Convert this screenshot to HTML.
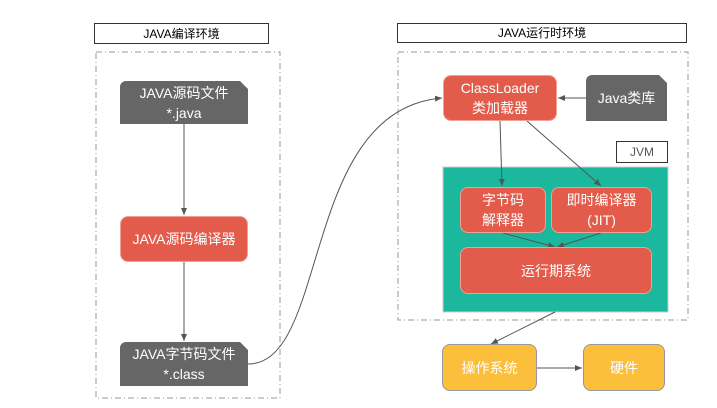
<!DOCTYPE html>
<html><head><meta charset="utf-8"><style>
body{margin:0;width:717px;height:408px;background:#fff;font-family:"Liberation Sans","Noto Sans CJK SC",sans-serif;position:relative;overflow:hidden}
.a{position:absolute;box-sizing:border-box;display:flex;align-items:center;justify-content:center;text-align:center;color:#fff;font-size:14px;line-height:20px}
.g{background:#666;clip-path:polygon(0 0,calc(100% - 8px) 0,100% 8px,100% 100%,0 100%);border-radius:6px 0 0 0}
.r{background:#e35b4b;border-radius:8px;border:1px solid #f0a095}
.y{background:#fbbf3c;border-radius:8px;border:1px solid #999;color:#fff}
.t{color:#000;background:#fff;border:1px solid #333;font-size:12px}
</style></head><body>
<svg width="717" height="408" style="position:absolute;left:0;top:0">
<defs><marker id="m" markerWidth="8" markerHeight="8" refX="7" refY="4" orient="auto"><path d="M0,1 L7,4 L0,7z" fill="#555"/></marker></defs>
<g fill="none" stroke="#999" stroke-dasharray="6,3,1,3">
<rect x="96" y="52" width="184" height="346"/>
<rect x="398" y="52" width="290" height="268"/>
</g>
<rect x="443" y="167" width="225" height="145" fill="#1bb89e" stroke="#ccc"/>
<g stroke="#555" fill="none" stroke-width="1">
<line x1="184" y1="124" x2="184" y2="215" marker-end="url(#m)"/>
<line x1="184" y1="262" x2="184" y2="341" marker-end="url(#m)"/>
<path d="M248,364 C330,364 300,110 442,98" marker-end="url(#m)"/>
<line x1="586" y1="98" x2="558" y2="98" marker-end="url(#m)"/>
<line x1="500" y1="121" x2="502" y2="186" marker-end="url(#m)"/>
<line x1="527" y1="121" x2="601" y2="186" marker-end="url(#m)"/>
<line x1="503" y1="233" x2="555" y2="247" marker-end="url(#m)"/>
<line x1="601" y1="233" x2="557" y2="247" marker-end="url(#m)"/>
<line x1="555" y1="312" x2="491" y2="344" marker-end="url(#m)"/>
<line x1="537" y1="368" x2="582" y2="368" marker-end="url(#m)"/>
</g>
</svg>
<div class="a t" style="left:94px;top:23px;width:175px;height:21px">JAVA编译环境</div>
<div class="a t" style="left:397px;top:23px;width:290px;height:20px">JAVA运行时环境</div>
<div class="a t" style="left:616px;top:141px;width:52px;height:22px;color:#555">JVM</div>
<div class="a g" style="left:120px;top:81px;width:128px;height:43px">JAVA源码文件<br>*.java</div>
<div class="a r" style="left:120px;top:216px;width:128px;height:46px">JAVA源码编译器</div>
<div class="a g" style="left:120px;top:342px;width:128px;height:44px">JAVA字节码文件<br>*.class</div>
<div class="a r" style="left:443px;top:75px;width:114px;height:46px">ClassLoader<br>类加载器</div>
<div class="a g" style="left:586px;top:75px;width:81px;height:46px">Java类库</div>
<div class="a r" style="left:460px;top:187px;width:86px;height:46px">字节码<br>解释器</div>
<div class="a r" style="left:551px;top:187px;width:101px;height:46px">即时编译器<br>(JIT)</div>
<div class="a r" style="left:460px;top:247px;width:192px;height:47px">运行期系统</div>
<div class="a y" style="left:442px;top:344px;width:95px;height:47px">操作系统</div>
<div class="a y" style="left:583px;top:344px;width:82px;height:47px">硬件</div>
</body></html>
